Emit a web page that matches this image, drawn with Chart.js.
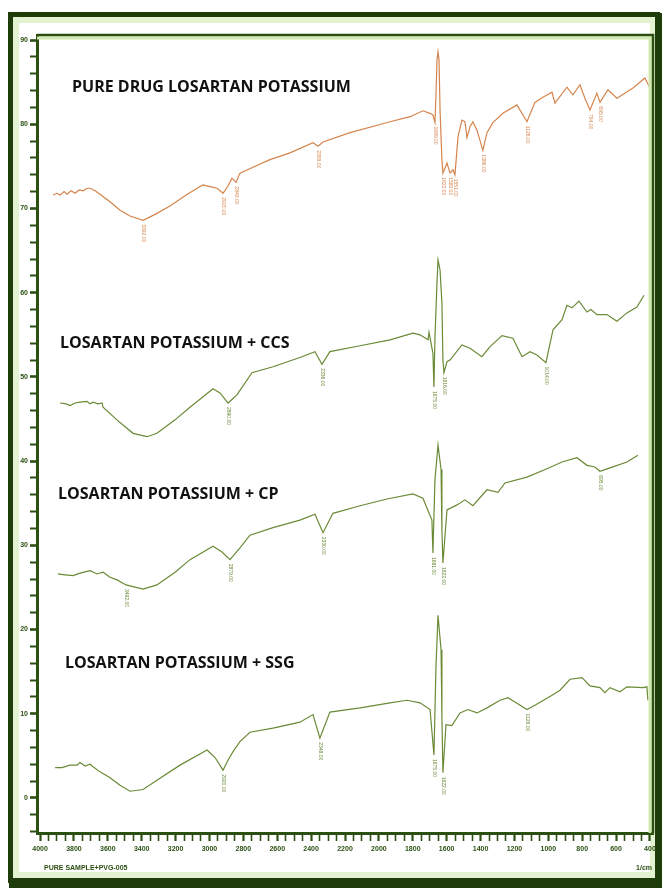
<!DOCTYPE html>
<html>
<head>
<meta charset="utf-8">
<title>FTIR spectra – Losartan potassium</title>
<script src="https://cdn.jsdelivr.net/npm/chart.js@4.4.1/dist/chart.umd.min.js"></script>
<style>
  html, body { margin: 0; padding: 0; background: #ffffff; }
  #wrap { width: 664px; height: 893px; }
</style>
</head>
<body>
<div id="wrap"><canvas id="ftir" width="664" height="893"></canvas></div>
<script>
// Wavenumber axis (cm-1), labelled every 200
const wavenumberTicks = [4000, 3800, 3600, 3400, 3200, 3000, 2800, 2600, 2400, 2200, 2000, 1800, 1600, 1400, 1200, 1000, 800, 600, 400];
// Transmittance axis, labelled every 10
const transmittanceTicks = [0, 10, 20, 30, 40, 50, 60, 70, 80, 90];

// Pure drug losartan potassium
const pureWn = [3923,3900,3882,3858,3841,3817,3793,3770,3746,3723,3705,3675,3646,3587,3528,3469,3392,3321,3233,3144,3073,3038,2997,2955,2920,2890,2867,2843,2820,2743,2643,2525,2389,2359,2330,2170,1934,1816,1740,1698,1681,1669,1663,1657,1651,1645,1639,1628,1622,1598,1580,1563,1551,1533,1510,1492,1480,1462,1445,1421,1386,1362,1327,1268,1185,1126,1079,1032,978,961,890,855,813,784,754,713,695,648,595,500,430,400,397];
const pureT = [71.6,71.8,71.6,72.0,71.7,72.1,71.8,72.2,72.1,72.4,72.4,72.1,71.7,70.8,69.8,69.1,68.6,69.3,70.3,71.5,72.4,72.8,72.6,72.4,71.8,72.7,73.6,73.1,74.2,74.9,75.8,76.6,77.8,77.4,77.9,79.0,80.3,80.9,81.6,81.3,81.1,80.2,83.5,87.6,88.6,87.6,81.7,75.8,74.2,75.4,74.2,74.6,74.0,78.5,80.5,80.3,78.4,79.7,80.3,79.3,76.9,79.0,80.2,81.3,82.3,80.3,82.6,83.2,83.8,82.5,84.4,83.5,84.7,83.1,81.7,83.7,82.6,84.1,83.1,84.3,85.5,84.3,83.1];
const purePeaks = [3392, 2920, 2843, 2359, 1669, 1622, 1580, 1551, 1386, 1126, 754, 695];

// Losartan potassium + CCS
const ccsWn = [3882,3846,3823,3793,3764,3723,3705,3687,3658,3634,3628,3546,3451,3369,3310,3203,3115,2979,2938,2890,2837,2749,2625,2466,2377,2336,2289,2111,1934,1799,1757,1710,1704,1681,1675,1669,1657,1651,1639,1628,1622,1616,1598,1580,1510,1462,1392,1344,1273,1209,1155,1108,1067,1014,972,919,890,860,819,772,748,713,654,595,536,477,435];
const ccsT = [46.9,46.8,46.6,46.9,47.0,47.1,46.8,47.0,46.8,46.9,46.4,44.9,43.3,42.9,43.3,44.9,46.4,48.6,48.1,46.9,47.9,50.5,51.2,52.3,53.0,51.5,53.0,53.7,54.4,55.2,55.0,54.4,55.3,52.8,48.8,54.7,61.2,63.9,62.7,58.8,52.0,50.5,51.8,52.0,53.8,53.4,52.4,53.6,54.9,54.6,52.4,53.0,52.6,51.7,55.6,56.8,58.5,58.2,59.0,57.7,58.0,57.4,57.4,56.6,57.6,58.3,59.7];
const ccsPeaks = [2890, 2336, 1675, 1616, 1014];

// Losartan potassium + CP
const cpWn = [3894,3852,3805,3764,3705,3664,3628,3587,3546,3492,3392,3310,3203,3115,2979,2926,2879,2820,2761,2625,2466,2377,2330,2271,2111,1952,1799,1740,1687,1681,1669,1651,1633,1628,1622,1598,1539,1492,1445,1362,1297,1256,1126,1008,919,831,772,725,695,636,536,471];
const cpT = [26.6,26.5,26.4,26.7,27.0,26.6,26.8,26.2,25.9,25.3,24.8,25.3,26.8,28.3,29.9,29.2,28.3,29.7,31.2,32.1,33.0,33.7,31.5,33.8,34.7,35.5,36.1,35.6,33.0,29.1,37.8,41.9,39.0,31.8,27.9,34.2,34.8,35.4,34.7,36.6,36.3,37.4,38.1,39.1,39.9,40.4,39.5,39.3,38.8,39.2,39.9,40.7];
const cpPeaks = [3492, 2879, 2330, 1681, 1622, 695];

// Losartan potassium + SSG
const ssgWn = [3911,3870,3823,3782,3764,3734,3705,3687,3646,3587,3528,3469,3392,3310,3174,3014,2967,2920,2890,2861,2820,2761,2625,2466,2389,2348,2318,2289,2111,1934,1834,1757,1698,1675,1663,1651,1633,1628,1622,1604,1569,1521,1474,1421,1362,1285,1238,1197,1126,1079,978,931,872,801,754,695,666,636,577,536,441,418,412];
const ssgT = [3.6,3.6,3.9,3.9,4.2,3.8,4.0,3.7,3.1,2.4,1.5,0.8,1.0,2.1,3.9,5.7,4.8,3.3,4.5,5.5,6.7,7.8,8.3,9.0,9.9,7.1,8.7,10.2,10.7,11.3,11.6,11.3,10.5,5.1,15.6,21.7,17.6,9.6,3.0,8.7,8.6,10.1,10.5,10.1,10.7,11.6,11.9,11.4,10.5,11.0,12.2,12.8,14.1,14.3,13.3,13.1,12.5,13.1,12.6,13.2,13.1,13.2,11.6];
const ssgPeaks = [2920, 2348, 1675, 1622, 1126];

const sampleNames = ['PURE DRUG LOSARTAN POTASSIUM', 'LOSARTAN POTASSIUM + CCS', 'LOSARTAN POTASSIUM + CP', 'LOSARTAN POTASSIUM + SSG'];

const ORANGE = '#d6844c';
const OLIVE = '#6a8a36';
const FRAME = '#1f3d0b';
const AXIS = '#2c4f12';
const GLOW = '#cfe9b0';

function series(wn, t) { return wn.map((x, i) => ({ x: x, y: t[i] })); }

const traces = [
  { name: sampleNames[0], wn: pureWn, t: pureT, peaks: purePeaks, color: ORANGE, label: { x: 72, y: 87 } },
  { name: sampleNames[1], wn: ccsWn, t: ccsT, peaks: ccsPeaks, color: OLIVE, label: { x: 60, y: 343 } },
  { name: sampleNames[2], wn: cpWn, t: cpT, peaks: cpPeaks, color: OLIVE, label: { x: 58, y: 494 } },
  { name: sampleNames[3], wn: ssgWn, t: ssgT, peaks: ssgPeaks, color: OLIVE, label: { x: 65, y: 663 } }
];

// minor tick positions on both axes
const xTickValues = [];
for (let v = 4000; v >= 400; v -= 50) xTickValues.push(v);
const yTickValues = [];
for (let v = -4; v <= 90; v += 2) yTickValues.push(v);

const framePlugin = {
  id: 'frame',
  beforeDraw(chart) {
    const ctx = chart.ctx;
    const W = chart.width, H = chart.height;
    ctx.save();
    ctx.fillStyle = '#ffffff';
    ctx.fillRect(0, 0, W, H);
    // pale green halo inside the outer frame
    ctx.strokeStyle = '#e3f3d2';
    ctx.lineWidth = 6;
    ctx.strokeRect(16, 20, 637, 855);
    // outer dark frame, heavier on right and bottom
    ctx.strokeStyle = FRAME;
    ctx.lineWidth = 5;
    ctx.strokeRect(10.5, 14.5, 647, 866);
    ctx.fillStyle = FRAME;
    ctx.fillRect(655, 13, 7, 875);
    ctx.fillRect(9, 879, 653, 9);
    ctx.restore();
  },
  afterDraw(chart) {
    const ctx = chart.ctx;
    const a = chart.chartArea;
    const xs = chart.scales.x, ys = chart.scales.y;
    ctx.save();
    // box: top and right sides (left/bottom are the axes)
    ctx.strokeStyle = GLOW;
    ctx.lineWidth = 3;
    ctx.beginPath();
    ctx.moveTo(a.left, a.top + 3);
    ctx.lineTo(a.right - 3, a.top + 3);
    ctx.lineTo(a.right - 3, a.bottom);
    ctx.stroke();
    ctx.strokeStyle = AXIS;
    ctx.lineWidth = 2.5;
    ctx.beginPath();
    ctx.moveTo(a.left, a.top);
    ctx.lineTo(a.right, a.top);
    ctx.lineTo(a.right, a.bottom);
    ctx.stroke();

    // sample names
    ctx.fillStyle = '#111111';
    ctx.font = 'bold 16px "Open Sans"';
    ctx.textBaseline = 'middle';
    ctx.textAlign = 'left';
    traces.forEach(tr => ctx.fillText(tr.name, tr.label.x, tr.label.y));

    // band positions written vertically under each marked band
    ctx.font = '5px "Liberation Sans"';
    traces.forEach(tr => {
      ctx.fillStyle = tr.color;
      tr.peaks.forEach(p => {
        const i = tr.wn.indexOf(p);
        if (i < 0) return;
        const px = xs.getPixelForValue(p);
        const py = ys.getPixelForValue(tr.t[i]);
        ctx.save();
        ctx.translate(px, py + 4);
        ctx.rotate(Math.PI / 2);
        ctx.textBaseline = 'middle';
        ctx.fillText(p.toFixed(2), 0, 0);
        ctx.restore();
      });
    });

    // footer texts
    ctx.fillStyle = AXIS;
    ctx.font = 'bold 7px "Liberation Sans"';
    ctx.textBaseline = 'middle';
    ctx.fillText('PURE SAMPLE+PVG-005', 44, 868);
    ctx.textAlign = 'right';
    ctx.fillText('1/cm', 652, 868);
    ctx.restore();
  }
};

new Chart(document.getElementById('ftir'), {
  type: 'scatter',
  data: {
    datasets: traces.map(tr => ({
      label: tr.name,
      data: series(tr.wn, tr.t),
      showLine: true,
      borderColor: tr.color,
      backgroundColor: tr.color,
      borderWidth: 1.2,
      pointRadius: 0,
      tension: 0
    }))
  },
  options: {
    responsive: false,
    animation: false,
    devicePixelRatio: 1,
    layout: { padding: { top: 35, right: 11, left: 0, bottom: 0 } },
    plugins: { legend: { display: false }, tooltip: { enabled: false } },
    scales: {
      x: {
        type: 'linear',
        reverse: true,
        min: 382,
        max: 4018,
        afterBuildTicks: s => { s.ticks = xTickValues.map(v => ({ value: v })); },
        afterFit: s => { s.height = 60; },
        border: { display: true, color: AXIS, width: 3 },
        grid: {
          drawOnChartArea: false,
          drawTicks: true,
          tickLength: 8,
          color: AXIS,
          tickWidth: c => (c.tick && c.tick.value % 200 === 0) ? 2.2 : 1.6
        },
        ticks: {
          autoSkip: false,
          maxRotation: 0,
          minRotation: 0,
          padding: 4,
          color: AXIS,
          font: { family: 'Liberation Sans', size: 7, weight: 'bold' },
          callback: v => wavenumberTicks.includes(v) ? String(v) : ''
        }
      },
      y: {
        type: 'linear',
        min: -4.16,
        max: 90.6,
        afterBuildTicks: s => { s.ticks = yTickValues.map(v => ({ value: v })); },
        afterFit: s => { s.width = 37; },
        border: { display: true, color: AXIS, width: 3 },
        grid: {
          drawOnChartArea: false,
          drawTicks: true,
          tickLength: 7,
          color: AXIS,
          tickWidth: c => (c.tick && c.tick.value % 10 === 0) ? 2.6 : 2
        },
        ticks: {
          autoSkip: false,
          padding: 2,
          color: AXIS,
          font: { family: 'Liberation Sans', size: 7, weight: 'bold' },
          callback: v => transmittanceTicks.includes(v) ? String(v) : ''
        }
      }
    }
  },
  plugins: [framePlugin]
});
</script>
</body>
</html>
